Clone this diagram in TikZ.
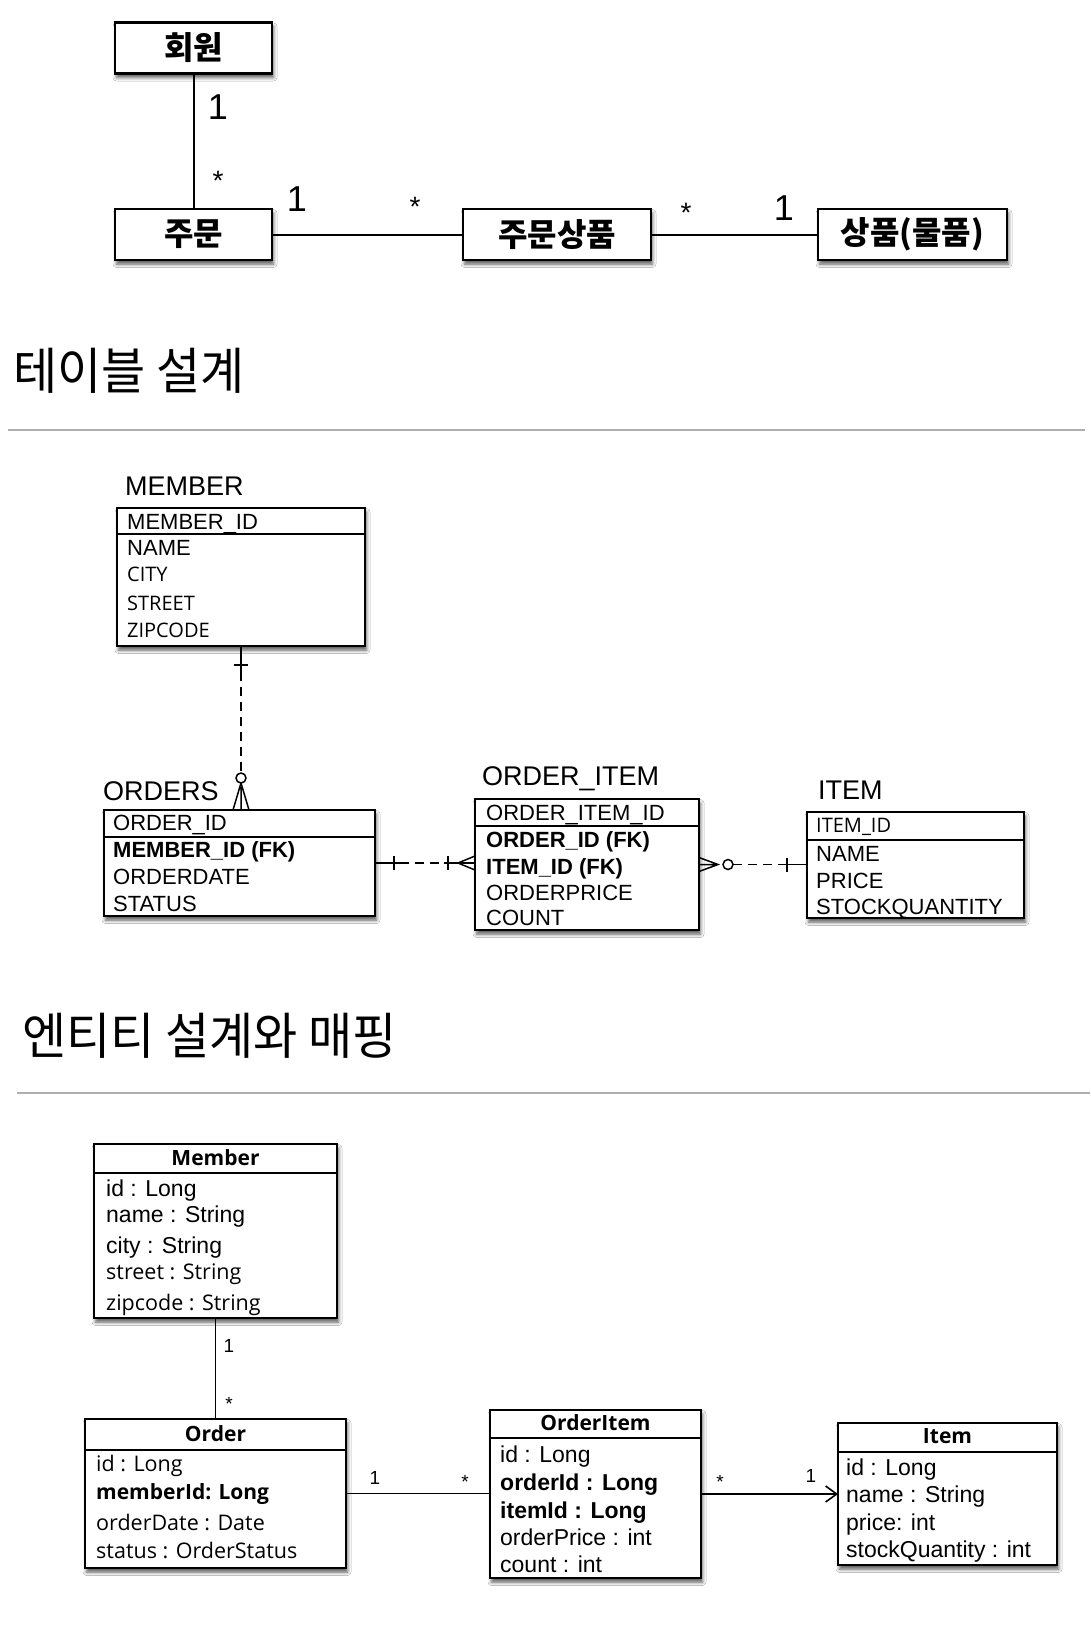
\documentclass[tikz,border=0pt]{standalone}
\usepackage{fontspec}
\setmainfont{Liberation Sans}
\newfontfamily\korfont{Noto Sans CJK KR}
\newfontfamily\humfont{Open Sans}
\usepackage{tikz}
\usetikzlibrary{positioning,calc,shadows.blur,arrows.meta}
\definecolor{rulegray}{RGB}{175,175,175}

\tikzset{
  shadowed/.style={blur shadow={shadow xshift=1.5pt,shadow yshift=-4pt,shadow blur radius=3.5pt,shadow opacity=65}},
  conbox/.style={draw,line width=2.8pt,fill=white,shadowed,inner sep=0pt,outer sep=0pt,
    minimum width=157pt,minimum height=51pt,font=\korfont\bfseries\fontsize{32}{36}\selectfont},
  multone/.style={anchor=base,inner sep=0pt,font=\fontsize{36}{40}\selectfont},
  multmany/.style={anchor=base,inner sep=0pt,font=\fontsize{28}{32}\selectfont},
  heading/.style={anchor=base west,inner sep=0pt,font=\korfont\fontsize{50}{56}\selectfont},
  tablebox/.style={draw,line width=1.6pt,fill=white,shadowed,anchor=north west,inner sep=0pt,outer sep=0pt},
  tabletitle/.style={anchor=base west,inner sep=0pt,font=\fontsize{27}{32}\selectfont},
  colname/.style={anchor=base west,inner sep=0pt,font=\fontsize{22}{26}\selectfont},
  colhum/.style={anchor=base west,inner sep=0pt,font=\humfont\fontsize{20}{24}\selectfont},
  enttitle/.style={anchor=base,inner sep=0pt,font=\humfont\bfseries\fontsize{21}{25}\selectfont},
  entfield/.style={anchor=base west,inner sep=0pt,font=\fontsize{23}{27}\selectfont},
  enthum/.style={anchor=base west,inner sep=0pt,font=\humfont\fontsize{21.5}{25}\selectfont},
  multsmall/.style={anchor=base,inner sep=0pt,font=\fontsize{19}{22}\selectfont},
  erline/.style={line width=1.5pt},
  erdash/.style={dash pattern=on 9pt off 6pt},
  entline/.style={line width=1.6pt}
}

\begin{document}
\begin{tikzpicture}[x=1pt,y=-1pt]
    \fill[white] (0,0) rectangle (1090,1628);
    \useasboundingbox (0,0) rectangle (1090,1628);

    % Concept model
    \begin{scope}
        \node[conbox] (member) at (193.5,48) {회원};
        \node[conbox] (order) at (193.5,234.5) {주문};
        \node[conbox,minimum width=188pt] (orderitem) at (557,234.5) {주문상품};
        \node[conbox,minimum width=189pt] (item) at (912.5,234.5) {상품(물품)};
        \draw[line width=2pt] (member) -- (order);
        \draw[line width=2pt] (order) -- (orderitem);
        \draw[line width=2pt] (orderitem) -- (item);
        \node[multone] (mem-one) at (218,119) {1};
        \node[multmany] (mem-many) at (218,190) {*};
        \node[multone] (ord-one) at (297,211) {1};
        \node[multmany] (ord-many) at (415,216) {*};
        \node[multmany] (oi-many) at (686,222) {*};
        \node[multone] (itm-one) at (784,220) {1};
    \end{scope}

    % Table design
    \node[heading,xscale=0.96] (table-head) at (13,389) {테이블 설계};
    \draw[rulegray,line width=1.5pt] (8,430) -- (1085,430);

    \begin{scope}
        % MEMBER
        \node[tabletitle] (member-title) at (125,495) {MEMBER};
        \node[tablebox,minimum width=248pt,minimum height=138pt] (member-tbl) at (117,508) {};
        \draw[erline] ([yshift=-26pt]member-tbl.north west) -- ([yshift=-26pt]member-tbl.north east);
        \node[colname] (member-id) at (127,529) {MEMBER\_ID};
        \node[colname] (member-name) at (127,555) {NAME};
        \node[colhum] (member-city) at (127,581) {CITY};
        \node[colhum] (member-street) at (127,610) {STREET};
        \node[colhum] (member-zip) at (127,637) {ZIPCODE};

        % ORDERS
        \node[tabletitle] (orders-title) at (103,800) {ORDERS};
        \node[tablebox,minimum width=271pt,minimum height=106pt] (orders-tbl) at (104,810) {};
        \draw[erline] ([yshift=-27pt]orders-tbl.north west) -- ([yshift=-27pt]orders-tbl.north east);
        \node[colname] (orders-id) at (113,830) {ORDER\_ID};
        \node[colname,font=\bfseries\fontsize{22}{26}\selectfont] (orders-fk) at (113,857) {MEMBER\_ID (FK)};
        \node[colname] (orders-date) at (113,884) {ORDERDATE};
        \node[colname] (orders-status) at (113,911) {STATUS};

        % ORDER_ITEM
        \node[tabletitle] (orditem-title) at (482,785) {ORDER\_ITEM};
        \node[tablebox,minimum width=224pt,minimum height=131pt] (orditem-tbl) at (475,799) {};
        \draw[erline] ([yshift=-27pt]orditem-tbl.north west) -- ([yshift=-27pt]orditem-tbl.north east);
        \node[colname] (orditem-id) at (486,820) {ORDER\_ITEM\_ID};
        \node[colname,font=\bfseries\fontsize{22}{26}\selectfont] (orditem-ofk) at (486,847) {ORDER\_ID (FK)};
        \node[colname,font=\bfseries\fontsize{22}{26}\selectfont] (orditem-ifk) at (486,874) {ITEM\_ID (FK)};
        \node[colname] (orditem-price) at (486,900) {ORDERPRICE};
        \node[colname] (orditem-count) at (486,925) {COUNT};

        % ITEM
        \node[tabletitle] (item-title) at (818,799) {ITEM};
        \node[tablebox,minimum width=217pt,minimum height=106pt] (item-tbl) at (807,812) {};
        \draw[erline] ([yshift=-28pt]item-tbl.north west) -- ([yshift=-28pt]item-tbl.north east);
        \node[colhum] (item-id) at (816,832) {ITEM\_ID};
        \node[colname] (item-name) at (816,861) {NAME};
        \node[colname] (item-price) at (816,888) {PRICE};
        \node[colname] (item-stock) at (816,914) {STOCKQUANTITY};

        % MEMBER -- ORDERS
        \coordinate (mo-a) at (member-tbl.south);
        \coordinate (mo-b) at (member-tbl.south |- orders-tbl.north);
        \draw[erline] (mo-a) -- ++(0,26);
        \draw[erline] ($(mo-a)+(-7,19)$) -- ++(14,0);
        \draw[erline,erdash] ($(mo-a)+(0,26)$) -- ($(mo-b)+(0,-37)$);
        \draw[erline] ($(mo-b)+(0,-32)$) circle[radius=5pt];
        \draw[erline] ($(mo-b)+(0,-23)$) -- (mo-b)
            ($(mo-b)+(0,-27)$) -- ++(-8,27)
            ($(mo-b)+(0,-27)$) -- ++(8,27);

        % ORDERS -- ORDER_ITEM
        \coordinate (oo-a) at (orders-tbl.east);
        \coordinate (oo-b) at (orders-tbl.east -| orditem-tbl.west);
        \draw[erline] (oo-a) -- ++(25,0);
        \draw[erline] ($(oo-a)+(19,-7)$) -- ++(0,14);
        \draw[erline,erdash] ($(oo-a)+(25,0)$) -- ($(oo-b)+(-31,0)$);
        \draw[erline] ($(oo-b)+(-31,0)$) -- (oo-b);
        \draw[erline] ($(oo-b)+(-27,-7)$) -- ++(0,14);
        \draw[erline] ($(oo-b)+(-17,0)$) -- ++(17,-7)
            ($(oo-b)+(-17,0)$) -- ++(17,7);

        % ORDER_ITEM -- ITEM
        \coordinate (oi-a) at (orditem-tbl.east);
        \coordinate (oi-b) at (orditem-tbl.east -| item-tbl.west);
        \draw[erline] (oi-a) -- ++(19,0)
            ($(oi-a)+(0,-7)$) -- ++(19,7) -- ++(-19,7);
        \draw[erline] ($(oi-a)+(29,0)$) circle[radius=5pt];
        \draw[erline,erdash] ($(oi-a)+(34,0)$) -- ($(oi-b)+(-26,0)$);
        \draw[erline] ($(oi-b)+(-26,0)$) -- (oi-b);
        \draw[erline] ($(oi-b)+(-20,-7)$) -- ++(0,14);
    \end{scope}

    % Entity design and mapping
    \node[heading,xscale=0.96] (entity-head) at (22,1054) {엔티티 설계와 매핑};
    \draw[rulegray,line width=1.5pt] (17,1093) -- (1090,1093);

    \begin{scope}
        % Member
        \node[tablebox,minimum width=243pt,minimum height=174pt] (member-ent) at (94,1144) {};
        \draw[entline] ([yshift=-29pt]member-ent.north west) -- ([yshift=-29pt]member-ent.north east);
        \node[enttitle] (member-ent-title) at (215.5,1165) {Member};
        \node[entfield] (member-ent-id) at (106,1196) {id : Long};
        \node[entfield] (member-ent-name) at (106,1222) {name : String};
        \node[entfield] (member-ent-city) at (106,1253) {city : String};
        \node[enthum] (member-ent-street) at (106,1279) {street : String};
        \node[enthum] (member-ent-zip) at (106,1310) {zipcode : String};

        % Order
        \node[tablebox,minimum width=261pt,minimum height=149pt] (order-ent) at (85,1419) {};
        \draw[entline] ([yshift=-31pt]order-ent.north west) -- ([yshift=-31pt]order-ent.north east);
        \node[enttitle] (order-ent-title) at (215.5,1441) {Order};
        \node[enthum] (order-ent-id) at (96,1471) {id : Long};
        \node[enthum,font=\humfont\bfseries\fontsize{21}{25}\selectfont] (order-ent-mid) at (96,1499) {memberId: Long};
        \node[enthum] (order-ent-date) at (96,1530) {orderDate : Date};
        \node[enthum] (order-ent-status) at (96,1558) {status : OrderStatus};

        % OrderItem
        \node[tablebox,minimum width=211pt,minimum height=168pt] (orditem-ent) at (490,1410) {};
        \draw[entline] ([yshift=-28pt]orditem-ent.north west) -- ([yshift=-28pt]orditem-ent.north east);
        \node[enttitle] (orditem-ent-title) at (595.5,1430) {OrderItem};
        \node[entfield] (orditem-ent-id) at (500,1462) {id : Long};
        \node[entfield,font=\bfseries\fontsize{23}{27}\selectfont] (orditem-ent-oid) at (500,1490) {orderId : Long};
        \node[entfield,font=\bfseries\fontsize{23}{27}\selectfont] (orditem-ent-iid) at (500,1518) {itemId : Long};
        \node[entfield] (orditem-ent-price) at (500,1545) {orderPrice : int};
        \node[entfield] (orditem-ent-count) at (500,1572) {count : int};

        % Item
        \node[tablebox,minimum width=219pt,minimum height=142pt] (item-ent) at (838,1423) {};
        \draw[entline] ([yshift=-29pt]item-ent.north west) -- ([yshift=-29pt]item-ent.north east);
        \node[enttitle] (item-ent-title) at (947.5,1443) {Item};
        \node[entfield] (item-ent-id) at (846,1475) {id : Long};
        \node[entfield] (item-ent-name) at (846,1502) {name : String};
        \node[entfield] (item-ent-price) at (846,1530) {price: int};
        \node[entfield] (item-ent-stock) at (846,1557) {stockQuantity : int};

        % associations
        \draw[entline] (member-ent) -- (order-ent);
        \draw[entline] (order-ent.east) -- (order-ent.east -| orditem-ent.west);
        \draw[entline,-{Straight Barb[length=11pt,width=16pt]}] (orditem-ent.east) -- (orditem-ent.east -| item-ent.west);
        \node[multsmall] (ment-one) at (229,1352) {1};
        \node[multsmall] (ment-many) at (229,1410) {*};
        \node[multsmall] (oent-one) at (375,1484) {1};
        \node[multsmall] (oent-many) at (465,1488) {*};
        \node[multsmall] (oient-many) at (720,1488) {*};
        \node[multsmall] (ient-one) at (811,1482) {1};
    \end{scope}
\end{tikzpicture}
\end{document}
